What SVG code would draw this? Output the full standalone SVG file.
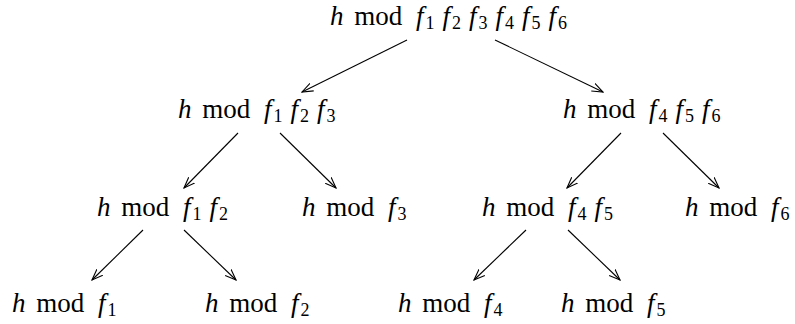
<svg xmlns="http://www.w3.org/2000/svg" width="795" height="324" viewBox="0 0 795 324">
<style>
.i{font-style:italic}
.s{font-size:18px}
.e{stroke:#000;stroke-width:1.1;fill:none;marker-end:url(#ah)}
</style>
<defs>
<marker id="ah" viewBox="0 0 12 12" refX="11" refY="6" markerWidth="12" markerHeight="12" markerUnits="userSpaceOnUse" orient="auto">
<path d="M0,1.8 L11,6 L0,10.2" fill="none" stroke="#000" stroke-width="1.1"/>
</marker>
</defs>
<g id="connectors">
<line class="e" x1="407" y1="40" x2="302" y2="92"/>
<line class="e" x1="495" y1="40" x2="603" y2="92"/>
<line class="e" x1="238" y1="133" x2="184" y2="188"/>
<line class="e" x1="280" y1="133" x2="336" y2="188"/>
<line class="e" x1="621" y1="133" x2="567" y2="188"/>
<line class="e" x1="663" y1="133" x2="719" y2="188"/>
<line class="e" x1="143" y1="230" x2="92" y2="280"/>
<line class="e" x1="184" y1="230" x2="236" y2="280"/>
<line class="e" x1="526" y1="230" x2="474" y2="280"/>
<line class="e" x1="568" y1="230" x2="620" y2="280"/>
</g>
<g font-family="'Liberation Serif', serif" font-size="27" fill="#000">
<g id="n0"><text x="330" y="25"><tspan class="i">h</tspan> <tspan dx="4">mod</tspan> <tspan class="i" dx="7">f</tspan><tspan class="s" dx="2" dy="4">1</tspan><tspan class="i" dx="8" dy="-4">f</tspan><tspan class="s" dx="2" dy="4">2</tspan><tspan class="i" dx="8" dy="-4">f</tspan><tspan class="s" dx="2" dy="4">3</tspan><tspan class="i" dx="8" dy="-4">f</tspan><tspan class="s" dx="2" dy="4">4</tspan><tspan class="i" dx="8" dy="-4">f</tspan><tspan class="s" dx="2" dy="4">5</tspan><tspan class="i" dx="8" dy="-4">f</tspan><tspan class="s" dx="2" dy="4">6</tspan></text></g>
<g id="n1"><text x="178" y="118"><tspan class="i">h</tspan> <tspan dx="4">mod</tspan> <tspan class="i" dx="7">f</tspan><tspan class="s" dx="2" dy="4">1</tspan><tspan class="i" dx="8" dy="-4">f</tspan><tspan class="s" dx="2" dy="4">2</tspan><tspan class="i" dx="8" dy="-4">f</tspan><tspan class="s" dx="2" dy="4">3</tspan></text></g>
<g id="n2"><text x="563" y="118"><tspan class="i">h</tspan> <tspan dx="4">mod</tspan> <tspan class="i" dx="7">f</tspan><tspan class="s" dx="2" dy="4">4</tspan><tspan class="i" dx="8" dy="-4">f</tspan><tspan class="s" dx="2" dy="4">5</tspan><tspan class="i" dx="8" dy="-4">f</tspan><tspan class="s" dx="2" dy="4">6</tspan></text></g>
<g id="n3"><text x="97" y="216"><tspan class="i">h</tspan> <tspan dx="4">mod</tspan> <tspan class="i" dx="7">f</tspan><tspan class="s" dx="2" dy="4">1</tspan><tspan class="i" dx="8" dy="-4">f</tspan><tspan class="s" dx="2" dy="4">2</tspan></text></g>
<g id="n4"><text x="302" y="216"><tspan class="i">h</tspan> <tspan dx="4">mod</tspan> <tspan class="i" dx="7">f</tspan><tspan class="s" dx="2" dy="4">3</tspan></text></g>
<g id="n5"><text x="482" y="216"><tspan class="i">h</tspan> <tspan dx="4">mod</tspan> <tspan class="i" dx="7">f</tspan><tspan class="s" dx="2" dy="4">4</tspan><tspan class="i" dx="8" dy="-4">f</tspan><tspan class="s" dx="2" dy="4">5</tspan></text></g>
<g id="n6"><text x="685" y="216"><tspan class="i">h</tspan> <tspan dx="4">mod</tspan> <tspan class="i" dx="7">f</tspan><tspan class="s" dx="2" dy="4">6</tspan></text></g>
<g id="n7"><text x="12" y="312"><tspan class="i">h</tspan> <tspan dx="4">mod</tspan> <tspan class="i" dx="7">f</tspan><tspan class="s" dx="2" dy="4">1</tspan></text></g>
<g id="n8"><text x="205" y="312"><tspan class="i">h</tspan> <tspan dx="4">mod</tspan> <tspan class="i" dx="7">f</tspan><tspan class="s" dx="2" dy="4">2</tspan></text></g>
<g id="n9"><text x="398" y="312"><tspan class="i">h</tspan> <tspan dx="4">mod</tspan> <tspan class="i" dx="7">f</tspan><tspan class="s" dx="2" dy="4">4</tspan></text></g>
<g id="n10"><text x="561" y="312"><tspan class="i">h</tspan> <tspan dx="4">mod</tspan> <tspan class="i" dx="7">f</tspan><tspan class="s" dx="2" dy="4">5</tspan></text></g>
</g>
</svg>
